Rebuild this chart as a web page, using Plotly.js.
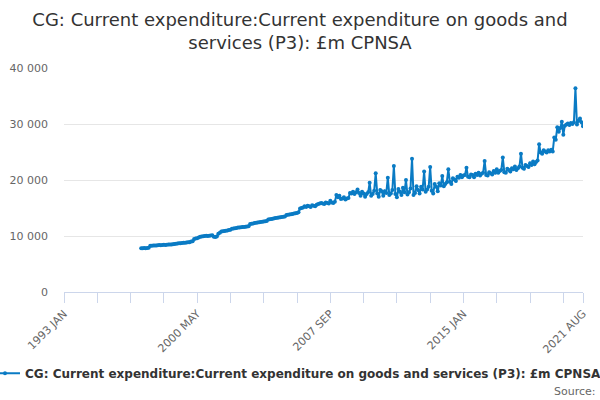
<!DOCTYPE html>
<html>
<head>
<meta charset="utf-8">
<script src="https://cdn.plot.ly/plotly-3.0.1.min.js"></script>
<style>
  html, body { margin: 0; padding: 0; background: #fff; }
  #chart { width: 600px; height: 400px; }
</style>
</head>
<body>
<div id="chart"></div>
<script>
var monthNames = ["JAN", "FEB", "MAR", "APR", "MAY", "JUN", "JUL", "AUG", "SEP", "OCT", "NOV", "DEC"];
var firstYear = 1993;
var lastYear = 2021;
var lastMonth = 8;          // axis ends 2021 AUG
var dataStart = "1997 APR";

// £m, monthly
var spend1990s = [
    7820, 7800, 7850, 7830, 7860, 7880, 8250, 8280, 8300,
    8320, 8300, 8350, 8380, 8360, 8400, 8420, 8400, 8450, 8470, 8460, 8500,
    8520, 8550, 8600, 8650, 8700, 8720, 8750, 8780, 8800, 8850, 8870, 8900
];
var spend2000s = [
    9000, 9050, 9450, 9550, 9600, 9750, 9850, 9900, 9950, 10000, 10050, 10000,
    10050, 10100, 10150, 9850, 9800, 9900, 10400, 10600, 10800, 10850, 10900, 10950,
    11000, 11050, 11100, 11300, 11350, 11400, 11450, 11500, 11520, 11550, 11600, 11620,
    11650, 11700, 11750, 12150, 12200, 12250, 12300, 12350, 12400, 12450, 12500, 12550,
    12600, 12650, 12700, 12950, 13000, 13050, 13100, 13150, 13200, 13250, 13300, 13350,
    13400, 13450, 13500, 13750, 13800, 13850, 13900, 13950, 14000, 14050, 14100, 14250,
    14900, 15000, 15100, 15300, 15200, 15400, 15300, 15200, 15500, 15400, 15300, 15600,
    15700, 15800, 15900, 15800, 15700, 16000, 15900, 15800, 16300, 16000, 15900, 16100,
    17300, 16900, 17200, 16600, 16700, 16900, 16500, 16700, 16800, 17700, 17600, 17900,
    17500, 17800, 18300, 17700, 17200, 17900, 17600, 17000, 17500, 17800, 19500, 17200
];
var spend2010s = [
    17500, 18100, 21200, 17600, 17000, 18200, 18000, 17200, 18000, 17700, 20400, 17300,
    17600, 18200, 22500, 17500, 16900, 18400, 17900, 17300, 18600, 17800, 20000, 17400,
    17800, 18500, 23800, 17300, 17700, 18900, 18200, 17600, 18800, 18300, 21500, 17900,
    18300, 18800, 22300, 18100, 17600, 19300, 18800, 18000, 19400, 19000, 20700, 18900,
    19300, 19600, 21900, 19700, 19300, 20300, 20100, 19800, 20600, 20400, 20900, 20500,
    20800, 20900, 22200, 20600, 20500, 21000, 20900, 20500, 21100, 20900, 21300, 20800,
    21100, 21300, 23400, 20900, 20800, 21400, 21200, 21000, 21600, 21300, 21900, 21300,
    21600, 21800, 24000, 21400, 21300, 22000, 21800, 21500, 22100, 21900, 22400, 21800,
    22100, 22400, 24700, 22200, 22000, 22700, 22500, 22300, 23000, 22700, 23300, 22800,
    23200, 23500, 26400, 24900, 24700, 25300, 25100, 24900, 25300, 25100, 25400, 25100
];
var spend2020s = [
    27600, 27200, 29400, 28600, 29300, 30400, 28100, 29700, 29900, 30100, 29800, 30200,
    30000, 30300, 36400, 29900, 30600, 31000, 30300, 29600
];

var seriesName = "CG: Current expenditure:Current expenditure on goods and services (P3): £m CPNSA";

var categories = [];
for (var yr = firstYear; yr <= lastYear; yr++) {
    for (var m = 0; m < 12; m++) {
        if (yr === lastYear && m >= lastMonth) break;
        categories.push(yr + " " + monthNames[m]);
    }
}

var values = spend1990s.concat(spend2000s, spend2010s, spend2020s);
var start = categories.indexOf(dataStart);
var xs = categories.slice(start, start + values.length);

// ticks every 22 months, labels every 88 plus the last month
var tickVals = [], tickText = [];
for (var i = 0; i < categories.length; i += 22) {
    tickVals.push(categories[i]);
    tickText.push(i % 88 === 0 ? categories[i] : "");
}
tickVals.push(categories[categories.length - 1]);
tickText.push(categories[categories.length - 1]);

var blue = "#0a7bc4";
var font = "DejaVu Sans, sans-serif";

var chartData = [{
    x: xs,
    y: values,
    name: seriesName,
    type: "scatter",
    mode: "lines+markers",
    line: {color: blue, width: 2},
    marker: {color: blue, size: 4},
    hoverinfo: "x+y"
}];

var chartLayout = {
    width: 600,
    height: 400,
    margin: {l: 64, r: 17, t: 68, b: 108},
    paper_bgcolor: "#fff",
    plot_bgcolor: "#fff",
    separators: ". ",
    font: {family: font, color: "#666", size: 11},
    title: {
        text: "CG: Current expenditure:Current expenditure on goods and<br>services (P3): £m CPNSA",
        font: {family: font, size: 18, color: "#333"},
        x: 0.5,
        xanchor: "center",
        yref: "container",
        y: 0.936,
        yanchor: "middle",
        automargin: false
    },
    xaxis: {
        type: "category",
        categoryorder: "array",
        categoryarray: categories,
        range: [0, categories.length - 1],
        tickmode: "array",
        tickvals: tickVals,
        ticktext: tickText,
        tickangle: -45,
        ticks: "outside",
        ticklen: 10,
        tickcolor: "#ccd6eb",
        showline: true,
        linecolor: "#ccd6eb",
        linewidth: 1,
        showgrid: false,
        zeroline: false,
        automargin: false,
        tickfont: {family: font, size: 11, color: "#666"}
    },
    yaxis: {
        range: [0, 40000],
        dtick: 10000,
        tickformat: ",d",
        showgrid: true,
        gridcolor: "#e6e6e6",
        zeroline: false,
        showline: false,
        ticks: "",
        automargin: false,
        ticklabelstandoff: 15,
        tickfont: {family: font, size: 11, color: "#666"}
    },
    showlegend: true,
    legend: {
        orientation: "h",
        xref: "container",
        x: 0,
        xanchor: "left",
        yref: "container",
        y: 0.067,
        yanchor: "middle",
        indentation: -15,
        font: {family: font, size: 12, color: "#333", weight: "bold"},
        bgcolor: "rgba(0,0,0,0)"
    },
    annotations: [{
        text: "Source:",
        xref: "paper",
        yref: "paper",
        x: 1.028,
        xanchor: "right",
        y: -0.442,
        yanchor: "middle",
        showarrow: false,
        font: {family: font, size: 11, color: "#666"}
    }]
};

var chartConfig = {
    displayModeBar: false,
    staticPlot: true
};

Plotly.newPlot("chart", chartData, chartLayout, chartConfig);
</script>
</body>
</html>
